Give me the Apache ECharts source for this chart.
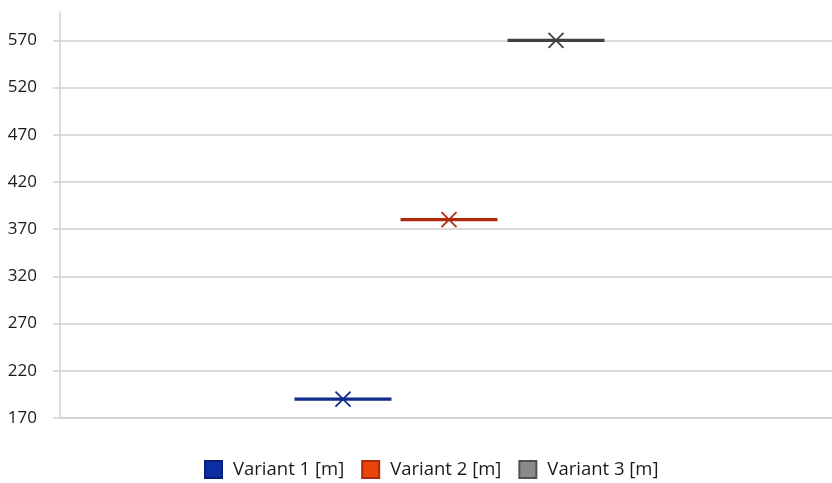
<!DOCTYPE html>
<html>
<head>
<meta charset="utf-8">
<script src="https://cdn.jsdelivr.net/npm/echarts@6/dist/echarts.min.js"></script>
<style>
html,body{margin:0;padding:0;background:#fff;}
#chart{width:832px;height:483px;}
</style>
</head>
<body>
<div id="chart"></div>
<script>
var categories = [''];
var seriesNames = ['Variant 1 [m]', 'Variant 2 [m]', 'Variant 3 [m]'];
var medianValues = [190, 380, 570];
var meanValues = [190, 380, 570];
var yMin = 170, yMax = 600, yInterval = 50;

var fillColors = ['#0b2fa3', '#e8460c', '#8a8a8a'];
var borderColors = ['#0a1f78', '#b02a08', '#505050'];
var lineColors = ['#0f2a8a', '#b02a0c', '#404040'];

var chart = echarts.init(document.getElementById('chart'), null, {renderer: 'canvas'});

var offsets = [-0.1334, 0.0039, 0.1425];
var boxFrac = 0.1256;

function makeSeries(i) {
  return {
    type: 'custom',
    name: seriesNames[i],
    itemStyle: {color: fillColors[i], borderColor: borderColors[i], borderWidth: 1.5},
    data: [[0, medianValues[i], meanValues[i]]],
    encode: {x: 0, y: [1, 2]},
    renderItem: function (params, api) {
      var band = api.size([1, 0])[0];
      var pMed = api.coord([api.value(0), api.value(1)]);
      var pMean = api.coord([api.value(0), api.value(2)]);
      var cx = pMed[0] + offsets[i] * band;
      var half = boxFrac * band / 2;
      var s = 7.5;
      var my = pMean[1];
      return {
        type: 'group',
        children: [
          {type: 'line', shape: {x1: cx - half, y1: pMed[1], x2: cx + half, y2: pMed[1]},
           style: {stroke: lineColors[i], lineWidth: 3.2}},
          {type: 'line', shape: {x1: cx - s, y1: my - s, x2: cx + s, y2: my + s},
           style: {stroke: lineColors[i], lineWidth: 1.8}},
          {type: 'line', shape: {x1: cx - s, y1: my + s, x2: cx + s, y2: my - s},
           style: {stroke: lineColors[i], lineWidth: 1.8}}
        ]
      };
    }
  };
}

var splitColors = [];
for (var v = yMin; v <= yMax; v += yInterval) splitColors.push('#cfcfcf');
splitColors.push('rgba(0,0,0,0)');

chart.setOption({
  animation: false,
  textStyle: {fontFamily: 'Open Sans'},
  grid: {left: 60, right: 0, top: 12, bottom: 65, containLabel: false},
  legend: {
    top: 455,
    left: 199,
    icon: 'rect',
    itemWidth: 17,
    itemHeight: 17,
    itemGap: 17,
    textStyle: {fontSize: 18.5, color: '#1a1a1a', fontFamily: 'Open Sans', padding: [0, 0, 0, 6]},
    data: seriesNames
  },
  xAxis: {
    type: 'category',
    data: categories,
    axisLine: {show: true, lineStyle: {color: '#cfcfcf', width: 1.5}},
    axisTick: {show: false},
    axisLabel: {show: false},
    splitLine: {show: false}
  },
  yAxis: {
    type: 'value',
    min: yMin,
    max: yMax,
    interval: yInterval,
    axisLine: {show: true, lineStyle: {color: '#cfcfcf', width: 1.5}},
    axisTick: {show: true, length: 7, lineStyle: {color: '#cfcfcf', width: 1.5}},
    axisLabel: {color: '#1a1a1a', fontSize: 17, margin: 23, showMaxLabel: false,
      formatter: function (val) { return val === yMax ? '' : String(val); }},
    splitLine: {show: true, lineStyle: {color: splitColors, width: 1.5}}
  },
  series: [makeSeries(0), makeSeries(1), makeSeries(2)]
});
</script>
</body>
</html>
